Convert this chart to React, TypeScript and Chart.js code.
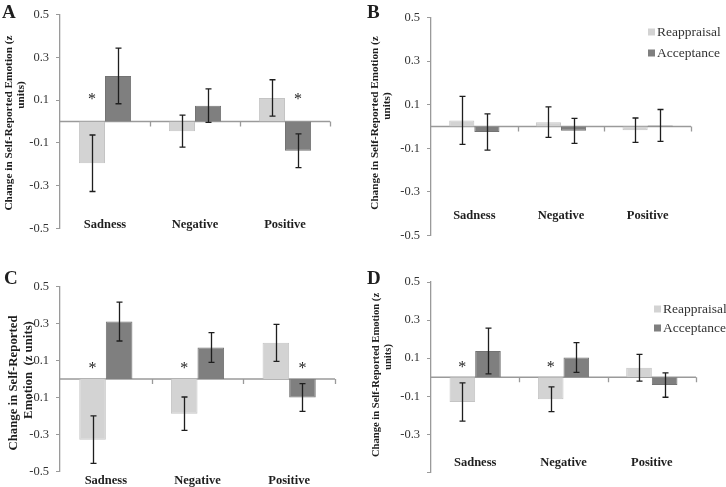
import React, { useEffect, useRef } from 'react';
import { Chart, registerables } from 'chart.js';

Chart.register(...registerables);

// ---------- data ----------
const categories = ['Sadness', 'Negative', 'Positive'];
const seriesLabels = ['Reappraisal', 'Acceptance'];
const yTickValues = [0.5, 0.3, 0.1, -0.1, -0.3, -0.5];
const yTickLabels = ['0.5', '0.3', '0.1', '-0.1', '-0.3', '-0.5'];
const yTickLabelsD = ['0.5', '0.3', '0.1', '-0.1', '-0.3', ''];

// Panel A
const aReappraisal = [-0.195, -0.045, 0.11];
const aReappraisalErr = [0.132, 0.075, 0.085];
const aAcceptance = [0.213, 0.074, -0.137];
const aAcceptanceErr = [0.13, 0.078, 0.079];
const aStarCategories = [0, 2];
const aStarSeries = [0, 1];
const aStarLevel = 0.117;

// Panel B
const bReappraisal = [0.028, 0.02, -0.017];
const bReappraisalErr = [0.11, 0.07, 0.056];
const bAcceptance = [-0.025, -0.02, 0.005];
const bAcceptanceErr = [0.083, 0.057, 0.073];
const bStarCategories: number[] = [];
const bStarSeries: number[] = [];
const bStarLevel = 0;

// Panel C
const cReappraisal = [-0.327, -0.187, 0.195];
const cReappraisalErr = [0.128, 0.09, 0.1];
const cAcceptance = [0.31, 0.17, -0.1];
const cAcceptanceErr = [0.105, 0.08, 0.075];
const cStarCategories = [0, 1, 2];
const cStarSeries = [0, 0, 1];
const cStarLevel = 0.072;

// Panel D
const dReappraisal = [-0.13, -0.115, 0.05];
const dReappraisalErr = [0.1, 0.065, 0.07];
const dAcceptance = [0.138, 0.104, -0.041];
const dAcceptanceErr = [0.12, 0.078, 0.064];
const dStarCategories = [0, 1];
const dStarSeries = [0, 0];
const dStarLevel = 0.067;

// ---------- style ----------
const REAPP_COLOR = '#d3d3d3';
const ACC_COLOR = '#7f7f7f';
const AXIS_COLOR = '#9a9a9a';
const INK = '#1e1e1e';
const SERIF = '"Liberation Serif", "Times New Roman", serif';

type TitleLine = { text: string; x: number; y: number; size: number };
type PanelCfg = {
  letter: string;
  left: number; top: number; width: number; height: number;
  area: { left: number; right: number; top: number; bottom: number };
  labelLevel: number;
  reapp: number[]; reappErr: number[]; acc: number[]; accErr: number[];
  starCats: number[]; starSeries: number[]; starLevel: number;
  tickLabels: string[];
  letterPos: { x: number; y: number };
  titles: TitleLine[];
  legend: null | { x: number; y1: number; y2: number };
  z: number;
};

const Y_AXIS_W = 40;

const panels: PanelCfg[] = [
  {
    letter: 'A', left: 0, top: 0, width: 363, height: 243,
    area: { left: 60, right: 330, top: 13, bottom: 232 },
    labelLevel: -0.448,
    reapp: aReappraisal, reappErr: aReappraisalErr, acc: aAcceptance, accErr: aAcceptanceErr,
    starCats: aStarCategories, starSeries: aStarSeries, starLevel: aStarLevel,
    tickLabels: yTickLabels,
    letterPos: { x: 2, y: 18 },
    titles: [
      { text: 'Change in Self-Reported Emotion (z', x: 9, y: 123, size: 11.3 },
      { text: 'units)', x: 21, y: 95, size: 11.3 },
    ],
    legend: null, z: 1,
  },
  {
    letter: 'B', left: 363, top: 0, width: 363, height: 250,
    area: { left: 68, right: 328, top: 17.5, bottom: 241.5 },
    labelLevel: -0.376,
    reapp: bReappraisal, reappErr: bReappraisalErr, acc: bAcceptance, accErr: bAcceptanceErr,
    starCats: bStarCategories, starSeries: bStarSeries, starLevel: bStarLevel,
    tickLabels: yTickLabels,
    letterPos: { x: 4, y: 18 },
    titles: [
      { text: 'Change in Self-Reported Emotion (z', x: 12, y: 123, size: 11.2 },
      { text: 'units)', x: 24, y: 106, size: 11.2 },
    ],
    legend: { x: 285, y1: 32, y2: 53 }, z: 3,
  },
  {
    letter: 'C', left: 0, top: 243, width: 363, height: 244,
    area: { left: 60, right: 335, top: 43.3, bottom: 228.7 },
    labelLevel: -0.506,
    reapp: cReappraisal, reappErr: cReappraisalErr, acc: cAcceptance, accErr: cAcceptanceErr,
    starCats: cStarCategories, starSeries: cStarSeries, starLevel: cStarLevel,
    tickLabels: yTickLabels,
    letterPos: { x: 4, y: 41 },
    titles: [
      { text: 'Change in Self-Reported', x: 14, y: 140, size: 12.8 },
      { text: 'Emotion  (z units)', x: 29, y: 127, size: 12.8 },
    ],
    legend: null, z: 1,
  },
  {
    letter: 'D', left: 363, top: 243, width: 363, height: 244,
    area: { left: 68, right: 333, top: 39, bottom: 232.3 },
    labelLevel: -0.409,
    reapp: dReappraisal, reappErr: dReappraisalErr, acc: dAcceptance, accErr: dAcceptanceErr,
    starCats: dStarCategories, starSeries: dStarSeries, starLevel: dStarLevel,
    tickLabels: yTickLabelsD,
    letterPos: { x: 4, y: 41 },
    titles: [
      { text: 'Change in Self-Reported Emotion (z', x: 13, y: 132, size: 10.6 },
      { text: 'units)', x: 25, y: 114, size: 10.6 },
    ],
    legend: { x: 291, y1: 66, y2: 85 }, z: 2,
  },
];

function makeDecor(p: PanelCfg) {
  return {
    id: 'panelDecor',
    beforeDatasetsDraw(chart: any) {
      const { ctx, chartArea } = chart;
      const x = chart.scales.x;
      const y = chart.scales.y;
      const y0 = y.getPixelForValue(0);
      ctx.save();
      ctx.strokeStyle = AXIS_COLOR;
      ctx.lineWidth = 1.3;
      ctx.beginPath();
      ctx.moveTo(chartArea.left, y0);
      ctx.lineTo(chartArea.right, y0);
      for (let i = 1; i <= categories.length; i++) {
        const bx = Math.round(x.getPixelForValue(i - 0.5)) + 0.5;
        ctx.moveTo(bx, y0);
        ctx.lineTo(bx, y0 + 5);
      }
      ctx.stroke();
      ctx.restore();
    },
    afterDatasetsDraw(chart: any) {
      const { ctx } = chart;
      const y = chart.scales.y;
      ctx.save();
      ctx.strokeStyle = INK;
      ctx.lineWidth = 1.3;
      chart.data.datasets.forEach((ds: any, di: number) => {
        const meta = chart.getDatasetMeta(di);
        meta.data.forEach((el: any, i: number) => {
          const v = ds.data[i];
          const e = ds.errors[i];
          const bx = Math.round(el.x) + 0.5;
          const t = y.getPixelForValue(v + e);
          const b = y.getPixelForValue(v - e);
          ctx.beginPath();
          ctx.moveTo(bx, t);
          ctx.lineTo(bx, b);
          ctx.moveTo(bx - 3, t);
          ctx.lineTo(bx + 3, t);
          ctx.moveTo(bx - 3, b);
          ctx.lineTo(bx + 3, b);
          ctx.stroke();
        });
      });
      // significance stars
      ctx.fillStyle = INK;
      ctx.font = `16px ${SERIF}`;
      ctx.textAlign = 'center';
      ctx.textBaseline = 'middle';
      p.starCats.forEach((c, k) => {
        const el = chart.getDatasetMeta(p.starSeries[k]).data[c];
        ctx.fillText('*', el.x, y.getPixelForValue(p.starLevel) + 3);
      });
      ctx.restore();
    },
    afterDraw(chart: any) {
      const { ctx } = chart;
      ctx.save();
      ctx.fillStyle = INK;
      ctx.font = `bold 19px ${SERIF}`;
      ctx.textAlign = 'left';
      ctx.textBaseline = 'alphabetic';
      ctx.fillText(p.letter, p.letterPos.x, p.letterPos.y);
      p.titles.forEach((t) => {
        ctx.save();
        ctx.translate(t.x, t.y);
        ctx.rotate(-Math.PI / 2);
        ctx.font = `bold ${t.size}px ${SERIF}`;
        ctx.textAlign = 'center';
        ctx.textBaseline = 'middle';
        ctx.fillText(t.text, 0, 0);
        ctx.restore();
      });
      if (p.legend) {
        const lg = p.legend;
        const rows = [lg.y1, lg.y2];
        ctx.font = `13.5px ${SERIF}`;
        ctx.textBaseline = 'middle';
        ctx.textAlign = 'left';
        chart.data.datasets.forEach((ds: any, di: number) => {
          ctx.fillStyle = ds.backgroundColor;
          ctx.fillRect(lg.x, rows[di] - 3.5, 7, 7);
          ctx.fillStyle = '#333';
          ctx.fillText(ds.label, lg.x + 9, rows[di] + 0.5);
        });
      }
      ctx.restore();
    },
  };
}

function Panel({ p }: { p: PanelCfg }) {
  const ref = useRef<HTMLCanvasElement | null>(null);
  useEffect(() => {
    if (!ref.current) return;
    const chart = new Chart(ref.current, {
      type: 'bar',
      data: {
        labels: categories,
        datasets: [
          {
            label: seriesLabels[0],
            data: p.reapp,
            errors: p.reappErr,
            backgroundColor: REAPP_COLOR,
            borderColor: '#c4c4c4',
            borderWidth: 1,
            categoryPercentage: 0.58,
            barPercentage: 1.0,
          } as any,
          {
            label: seriesLabels[1],
            data: p.acc,
            errors: p.accErr,
            backgroundColor: ACC_COLOR,
            borderColor: '#737373',
            borderWidth: 1,
            categoryPercentage: 0.58,
            barPercentage: 1.0,
          } as any,
        ],
      },
      options: {
        responsive: false,
        animation: false,
        devicePixelRatio: 1,
        events: [],
        layout: {
          padding: {
            left: p.area.left - Y_AXIS_W,
            right: p.width - p.area.right,
            top: p.area.top,
            bottom: p.height - p.area.bottom,
          },
        },
        plugins: {
          legend: { display: false },
          tooltip: { enabled: false },
          title: { display: false },
        },
        scales: {
          x: {
            type: 'category',
            position: { y: p.labelLevel } as any,
            offset: true,
            grid: { display: false, drawTicks: false },
            border: { display: false },
            ticks: {
              padding: 0,
              maxRotation: 0,
              autoSkip: false,
              color: INK,
              font: { family: SERIF, size: 12.5, weight: 'bold' },
            },
          },
          y: {
            type: 'linear',
            min: -0.5,
            max: 0.5,
            afterBuildTicks: (scale: any) => {
              scale.ticks = yTickValues.map((v) => ({ value: v }));
            },
            afterFit: (scale: any) => {
              scale.width = Y_AXIS_W;
            },
            grid: {
              drawOnChartArea: false,
              drawTicks: true,
              tickLength: 4,
              color: AXIS_COLOR,
              tickColor: AXIS_COLOR,
            },
            border: { display: true, color: AXIS_COLOR, width: 1.3 },
            ticks: {
              padding: 7,
              color: '#333',
              font: { family: SERIF, size: 12.5 },
              callback: (_v: any, i: number) => p.tickLabels[i],
            },
          },
        },
      } as any,
      plugins: [makeDecor(p) as any],
    });
    return () => chart.destroy();
  }, [p]);
  return (
    <canvas
      ref={ref}
      width={p.width}
      height={p.height}
      style={{
        position: 'absolute',
        left: p.left,
        top: p.top,
        width: p.width,
        height: p.height,
        zIndex: p.z,
      }}
    />
  );
}

export default function App() {
  return (
    <div
      style={{
        position: 'absolute',
        left: 0,
        top: 0,
        width: 726,
        height: 487,
        background: '#ffffff',
        overflow: 'hidden',
      }}
    >
      {panels.map((p) => (
        <Panel key={p.letter} p={p} />
      ))}
    </div>
  );
}
